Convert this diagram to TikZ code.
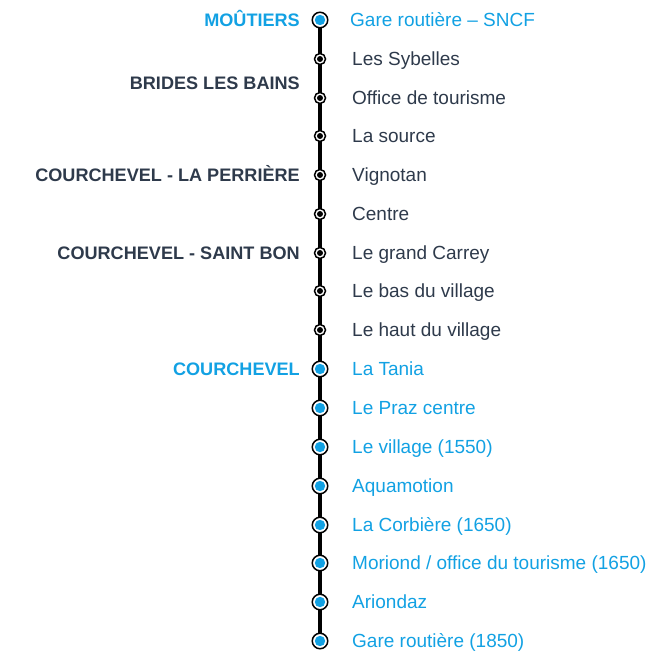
\documentclass[tikz,border=0pt]{standalone}
\usepackage{fontspec}
\setmainfont{Liberation Sans}
\definecolor{cblue}{HTML}{12A1E3}
\definecolor{cdark}{HTML}{2E3A4B}
\begin{document}
\begin{tikzpicture}[x=1pt,y=-1pt,
  stoplbl/.style={anchor=base west,inner sep=0pt,yshift=-6.8pt,font=\fontsize{19}{21}\selectfont,text=cdark},
  bluelbl/.style={stoplbl,text=cblue},
  townlbl/.style={anchor=base east,inner sep=0pt,yshift=-6.5pt,font=\bfseries\fontsize{18.1}{20}\selectfont,text=cdark},
  bluetown/.style={townlbl,text=cblue},
  blk/.style={circle,draw=black,fill=white,line width=1.5pt,minimum size=11pt,inner sep=0pt,
     path picture={\fill[black] (path picture bounding box.center) circle (3pt);}},
  blu/.style={circle,draw=black,fill=white,line width=1.5pt,minimum size=15.5pt,inner sep=0pt,
     path picture={\fill[cblue] (path picture bounding box.center) circle (5.2pt);}},
  rail/.style={line width=3.2pt,black}]
\useasboundingbox (0,0) rectangle (648,651);
\coordinate (s1) at (320,20);
\coordinate (s17) at (320,641);
\draw[rail] (s1) -- (s17);
\node[blu] (p1) at (320,20) {};
\node[blk] (p2) at (320,59) {};
\node[blk] (p3) at (320,98) {};
\node[blk] (p4) at (320,136) {};
\node[blk] (p5) at (320,175) {};
\node[blk] (p6) at (320,214) {};
\node[blk] (p7) at (320,253) {};
\node[blk] (p8) at (320,291) {};
\node[blk] (p9) at (320,330) {};
\node[blu] (p10) at (320,369) {};
\node[blu] (p11) at (320,408) {};
\node[blu] (p12) at (320,447) {};
\node[blu] (p13) at (320,486) {};
\node[blu] (p14) at (320,525) {};
\node[blu] (p15) at (320,563) {};
\node[blu] (p16) at (320,602) {};
\node[blu] (p17) at (320,641) {};
\node[bluelbl] (l1) at (350,20) {Gare routière – SNCF};
\node[stoplbl] (l2) at (352,59) {Les Sybelles};
\node[stoplbl] (l3) at (352,98) {Office de tourisme};
\node[stoplbl] (l4) at (352,136) {La source};
\node[stoplbl] (l5) at (352,175) {Vignotan};
\node[stoplbl] (l6) at (352,214) {Centre};
\node[stoplbl] (l7) at (352,253) {Le grand Carrey};
\node[stoplbl] (l8) at (352,291) {Le bas du village};
\node[stoplbl] (l9) at (352,330) {Le haut du village};
\node[bluelbl] (l10) at (352,369) {La Tania};
\node[bluelbl] (l11) at (352,408) {Le Praz centre};
\node[bluelbl] (l12) at (352,447) {Le village (1550)};
\node[bluelbl] (l13) at (352,486) {Aquamotion};
\node[bluelbl] (l14) at (352,525) {La Corbière (1650)};
\node[bluelbl] (l15) at (352,563) {Moriond / office du tourisme (1650)};
\node[bluelbl] (l16) at (352,602) {Ariondaz};
\node[bluelbl] (l17) at (352,641) {Gare routière (1850)};
\node[bluetown] (t1) at (300,20) {MOÛTIERS};
\node[townlbl] (t2) at (300,83) {BRIDES LES BAINS};
\node[townlbl] (t3) at (300,175) {COURCHEVEL - LA PERRIÈRE};
\node[townlbl] (t4) at (300,253) {COURCHEVEL - SAINT BON};
\node[bluetown] (t5) at (300,369) {COURCHEVEL};
\end{tikzpicture}
\end{document}
